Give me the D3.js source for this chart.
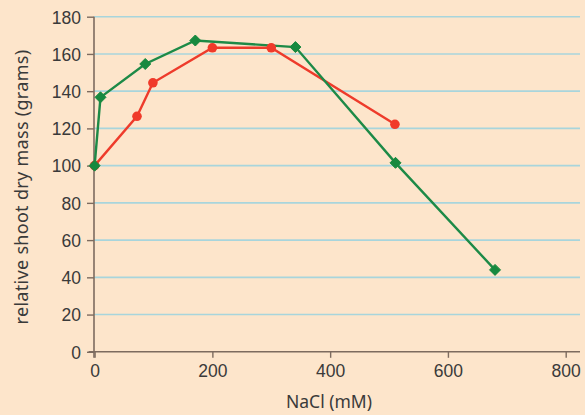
<!DOCTYPE html>
<html><head><meta charset="utf-8">
<script src="https://cdn.jsdelivr.net/npm/d3@7"></script>
<style>
html,body{margin:0;padding:0;background:#fde5cb;}
svg{display:block;font-family:"Noto Sans",sans-serif;}
</style></head>
<body><svg id="c" width="585" height="415"></svg>
<script>
const redX = [0, 72, 99, 200, 300, 510];
const redY = [100, 126.5, 144.5, 163.3, 163.3, 122.2];
const greenX = [0, 10, 86, 171, 341, 511, 680];
const greenY = [100, 136.7, 154.6, 167.2, 163.7, 101.5, 44];
const xTicks = [0, 200, 400, 600, 800];
const yTicks = [0, 20, 40, 60, 80, 100, 120, 140, 160, 180];
const xTitle = "NaCl (mM)";
const yTitle = "relative shoot dry mass (grams)";

const svg = d3.select("#c");
const x = d3.scaleLinear().domain([0, 800]).range([94.6, 565.7]);
const y = d3.scaleLinear().domain([0, 180]).range([351.8, 16.7]);
const axisCol = "#7d6b5f", textCol = "#3a3a3a";
const fs = "17.5px";

// gridlines
svg.append("g").selectAll("line").data(yTicks.filter(d => d > 0)).join("line")
  .attr("x1", 94).attr("x2", 580)
  .attr("y1", d => y(d)).attr("y2", d => y(d))
  .attr("stroke", "#a8d5dc").attr("stroke-width", 1.6);

// y axis
const ya = svg.append("g").attr("transform", "translate(94,0)")
  .call(d3.axisLeft(y).tickValues(yTicks).tickSize(7).tickPadding(6).tickSizeOuter(0));
ya.select(".domain").attr("stroke", axisCol).attr("stroke-width", 1.6)
  .attr("d", `M0,${y(180)}V${y(0) + 6}`);
ya.selectAll(".tick line").attr("stroke", axisCol).attr("stroke-width", 1.4);
ya.selectAll("text").attr("fill", textCol).style("font-size", fs).attr("dy", "0.36em");

// x axis
const xa = svg.append("g").attr("transform", `translate(0,${y(0)})`)
  .call(d3.axisBottom(x).tickValues(xTicks).tickSize(6).tickPadding(7).tickSizeOuter(0));
xa.select(".domain").attr("stroke", axisCol).attr("stroke-width", 1.6)
  .attr("d", `M${x(0) - 6},0H580`);
xa.selectAll(".tick line").attr("stroke", axisCol).attr("stroke-width", 1.4);
xa.selectAll("text").attr("fill", textCol).style("font-size", fs);

// titles
svg.append("text").attr("x", 329).attr("y", 408).attr("text-anchor", "middle")
  .attr("fill", textCol).style("font-size", fs).text(xTitle);
svg.append("text").attr("transform", `translate(28,187) rotate(-90)`)
  .attr("text-anchor", "middle").attr("fill", textCol).style("font-size", "18px")
  .style("letter-spacing", "0.3px").text(yTitle);

const line = d3.line().x(d => x(d[0])).y(d => y(d[1]));
const red = redX.map((v, i) => [v, redY[i]]);
const green = greenX.map((v, i) => [v, greenY[i]]);

svg.append("path").datum(red).attr("d", line).attr("fill", "none")
  .attr("stroke", "#ee3b2b").attr("stroke-width", 2.4);
svg.append("path").datum(green).attr("d", line).attr("fill", "none")
  .attr("stroke", "#1d8a47").attr("stroke-width", 2.4);

svg.append("g").selectAll("circle").data(red).join("circle")
  .attr("cx", d => x(d[0])).attr("cy", d => y(d[1])).attr("r", 4.8).attr("fill", "#f03a2a");
svg.append("g").selectAll("path").data(green).join("path")
  .attr("transform", d => `translate(${x(d[0])},${y(d[1])})`)
  .attr("d", "M0,-5.5L5.5,0L0,5.5L-5.5,0Z").attr("fill", "#17893f")
  .attr("stroke", "#17893f").attr("stroke-width", 1).attr("stroke-linejoin", "round");
</script></body></html>
